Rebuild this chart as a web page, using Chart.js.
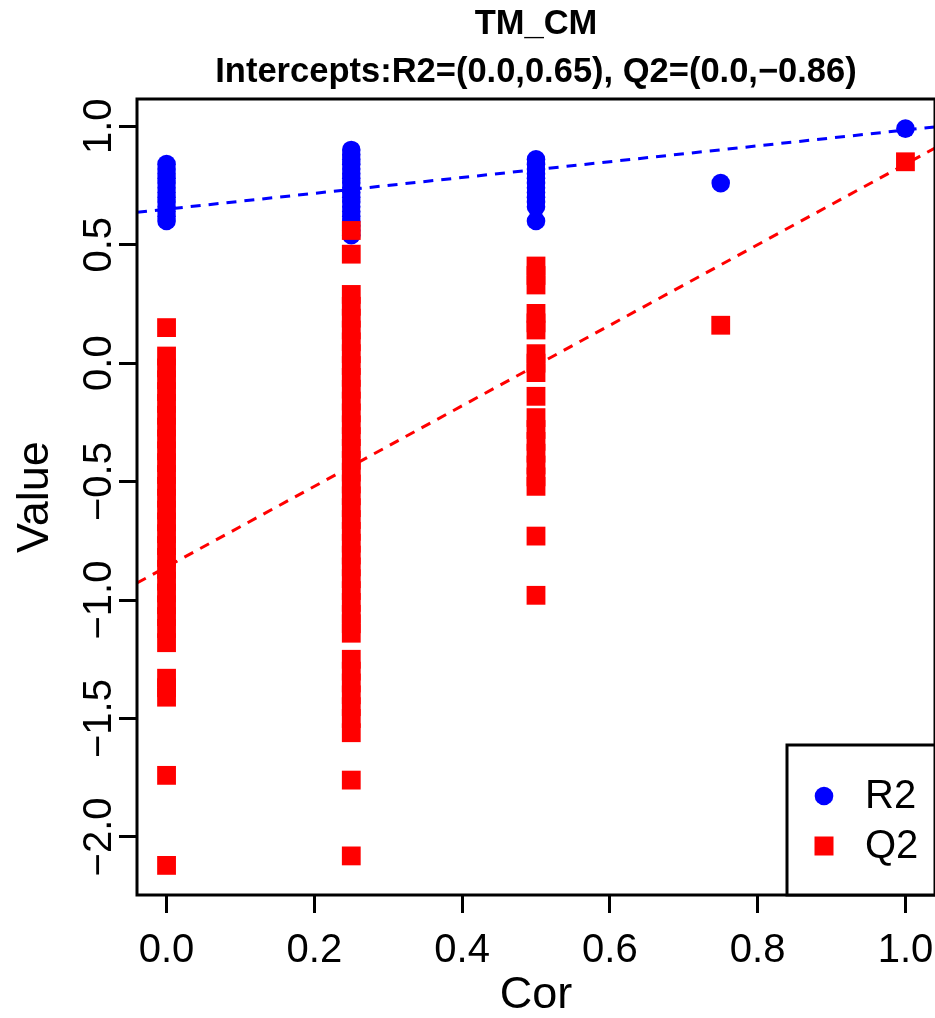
<!DOCTYPE html>
<html>
<head>
<meta charset="utf-8">
<script src="https://cdn.jsdelivr.net/npm/chart.js@4.4.1/dist/chart.umd.min.js"></script>
<style>
  html, body { margin: 0; padding: 0; background: #fff; overflow: hidden; }
  canvas { display: block; }
</style>
</head>
<body>
<canvas id="permPlot" width="1072" height="1018"></canvas>
<script>
// permutation test values, one list per Cor level
const corLevels = [0, 0.25, 0.5, 0.75, 1.0];
const r2Values = [
    [0.84, 0.82, 0.80, 0.78, 0.76, 0.74, 0.72, 0.70, 0.68, 0.66, 0.64, 0.62, 0.60],
    [0.90, 0.88, 0.86, 0.84, 0.82, 0.80, 0.78, 0.76, 0.74, 0.72, 0.70, 0.68, 0.66, 0.64, 0.62, 0.60, 0.58, 0.56, 0.54],
    [0.86, 0.84, 0.82, 0.80, 0.78, 0.76, 0.74, 0.72, 0.70, 0.68, 0.66, 0.60],
    [0.76],
    [0.99]
];
const q2Values = [
    [0.15, 0.03, -0.02, -0.07, -0.12, -0.17, -0.22, -0.27, -0.32, -0.37, -0.42, -0.47, -0.52, -0.57,
     -0.62, -0.67, -0.72, -0.77, -0.82, -0.87, -0.92, -0.97, -1.02, -1.07, -1.12, -1.18,
     -1.33, -1.37, -1.41, -1.74, -2.12],
    [0.56, 0.46, 0.29, 0.24, 0.19, 0.14, 0.09, 0.04, -0.01, -0.06, -0.11, -0.16, -0.21, -0.26, -0.31,
     -0.36, -0.41, -0.46, -0.51, -0.56, -0.61, -0.66, -0.71, -0.76, -0.81, -0.86, -0.91, -0.96,
     -1.01, -1.06, -1.10, -1.14, -1.25, -1.30, -1.35, -1.40, -1.45, -1.50, -1.56, -1.76, -2.08],
    [0.41, 0.37, 0.33, 0.21, 0.17, 0.14, 0.04, 0.00, -0.04, -0.14, -0.23, -0.28, -0.33, -0.38,
     -0.43, -0.48, -0.52, -0.73, -0.98],
    [0.16],
    [0.85]
];

// fitted lines (intercept at Cor = 0)
const r2Intercept = 0.65, r2Slope = 0.334;
const q2Intercept = -0.86, q2Slope = 1.70;

const xTicks = [0, 0.2, 0.4, 0.6, 0.8, 1.0];
const yTicks = [-2.0, -1.5, -1.0, -0.5, 0.0, 0.5, 1.0];
const xRange = [-0.04, 1.04];
const yRange = [-2.245, 1.115];

const titleLines = ['TM_CM', 'Intercepts:R2=(0.0,0.65), Q2=(0.0,\u22120.86)'];

const BLUE = '#0000ff';
const RED = '#ff0000';
const FONT = "'Liberation Sans', Arial, Helvetica, sans-serif";

function toPoints(values) {
    const pts = [];
    values.forEach((col, i) => col.forEach(v => pts.push({ x: corLevels[i], y: v })));
    return pts;
}

function fitLine(a, b) {
    return xRange.map(x => ({ x: x, y: a + b * x }));
}

const fmt = v => v.toFixed(1).replace('-', '\u2212');

// box around the plot area, like R's box()
const frame = {
    id: 'frame',
    afterDraw(chart) {
        const { ctx, chartArea: a } = chart;
        ctx.save();
        ctx.strokeStyle = '#000';
        ctx.lineWidth = 3;
        ctx.strokeRect(a.left, a.top, a.right - a.left, a.bottom - a.top);
        ctx.restore();
    }
};

// legend in the bottom right corner
const cornerLegend = {
    id: 'cornerLegend',
    afterDraw(chart) {
        const { ctx, chartArea: a } = chart;
        const w = 148, h = 150;
        const left = a.right - w, top = a.bottom - h;
        ctx.save();
        ctx.fillStyle = '#fff';
        ctx.fillRect(left, top, w, h);
        ctx.strokeStyle = '#000';
        ctx.lineWidth = 3;
        ctx.strokeRect(left, top, w, h);
        const items = chart.data.datasets.filter(d => d.inLegend);
        items.forEach((d, i) => {
            const cy = top + 51 + i * 50;
            const cx = left + 37;
            ctx.fillStyle = d.backgroundColor;
            if (d.pointStyle === 'rect') {
                ctx.fillRect(cx - 9.5, cy - 9.5, 19, 19);
            } else {
                ctx.beginPath();
                ctx.arc(cx, cy, 9.3, 0, Math.PI * 2);
                ctx.fill();
            }
            ctx.fillStyle = '#000';
            ctx.font = '40px ' + FONT;
            ctx.textBaseline = 'middle';
            ctx.textAlign = 'left';
            ctx.fillText(d.label, left + 78, cy + 1);
        });
        ctx.restore();
    }
};

Chart.defaults.font.family = FONT;
Chart.defaults.color = '#000';

const ctx = document.getElementById('permPlot').getContext('2d');
const permPlot = new Chart(ctx, {
    type: 'scatter',
    data: {
        datasets: [
            {
                label: 'R2 fit',
                data: fitLine(r2Intercept, r2Slope),
                showLine: true,
                borderColor: BLUE,
                borderWidth: 3,
                borderDash: [10, 8],
                pointRadius: 0,
                order: 0
            },
            {
                label: 'Q2 fit',
                data: fitLine(q2Intercept, q2Slope),
                showLine: true,
                borderColor: RED,
                borderWidth: 3,
                borderDash: [10, 8],
                pointRadius: 0,
                order: 0
            },
            {
                label: 'R2',
                inLegend: true,
                data: toPoints(r2Values),
                backgroundColor: BLUE,
                borderWidth: 0,
                pointStyle: 'circle',
                pointRadius: 9.3,
                order: 2
            },
            {
                label: 'Q2',
                inLegend: true,
                data: toPoints(q2Values),
                backgroundColor: RED,
                borderWidth: 0,
                pointStyle: 'rect',
                pointRadius: 13.3,
                order: 1
            }
        ]
    },
    options: {
        responsive: false,
        animation: false,
        layout: { padding: { left: 0, right: 137, top: 0, bottom: 0 } },
        plugins: {
            legend: { display: false },
            tooltip: { enabled: false },
            title: {
                display: true,
                fullSize: false,
                text: titleLines,
                color: '#000',
                font: { size: 34.5, weight: 'bold', lineHeight: '48px' },
                padding: { top: 0, bottom: 3 }
            }
        },
        scales: {
            x: {
                type: 'linear',
                position: 'bottom',
                min: xRange[0],
                max: xRange[1],
                afterBuildTicks: s => { s.ticks = xTicks.map(v => ({ value: v })); },
                afterFit: s => { s.height = 123; },
                ticks: {
                    font: { size: 40 },
                    padding: 14,
                    maxRotation: 0,
                    autoSkip: false,
                    callback: v => fmt(v)
                },
                grid: {
                    drawOnChartArea: false,
                    drawTicks: true,
                    tickLength: 18,
                    tickWidth: 3,
                    tickColor: '#000'
                },
                border: { display: false },
                title: {
                    display: true,
                    text: 'Cor',
                    font: { size: 45, lineHeight: 1 },
                    padding: { top: 0, bottom: 0 }
                }
            },
            y: {
                type: 'linear',
                position: 'left',
                min: yRange[0],
                max: yRange[1],
                afterBuildTicks: s => { s.ticks = yTicks.map(v => ({ value: v })); },
                afterFit: s => { s.width = 137; },
                ticks: {
                    font: { size: 40 },
                    minRotation: 90,
                    maxRotation: 90,
                    crossAlign: 'center',
                    padding: -20,
                    autoSkip: false,
                    callback: v => fmt(v)
                },
                grid: {
                    drawOnChartArea: false,
                    drawTicks: true,
                    tickLength: 18,
                    tickWidth: 3,
                    tickColor: '#000'
                },
                border: { display: false },
                title: {
                    display: true,
                    text: 'Value',
                    font: { size: 45, lineHeight: 1 },
                    padding: { top: 13, bottom: 0 }
                }
            }
        }
    },
    plugins: [frame, cornerLegend]
});
</script>
</body>
</html>
